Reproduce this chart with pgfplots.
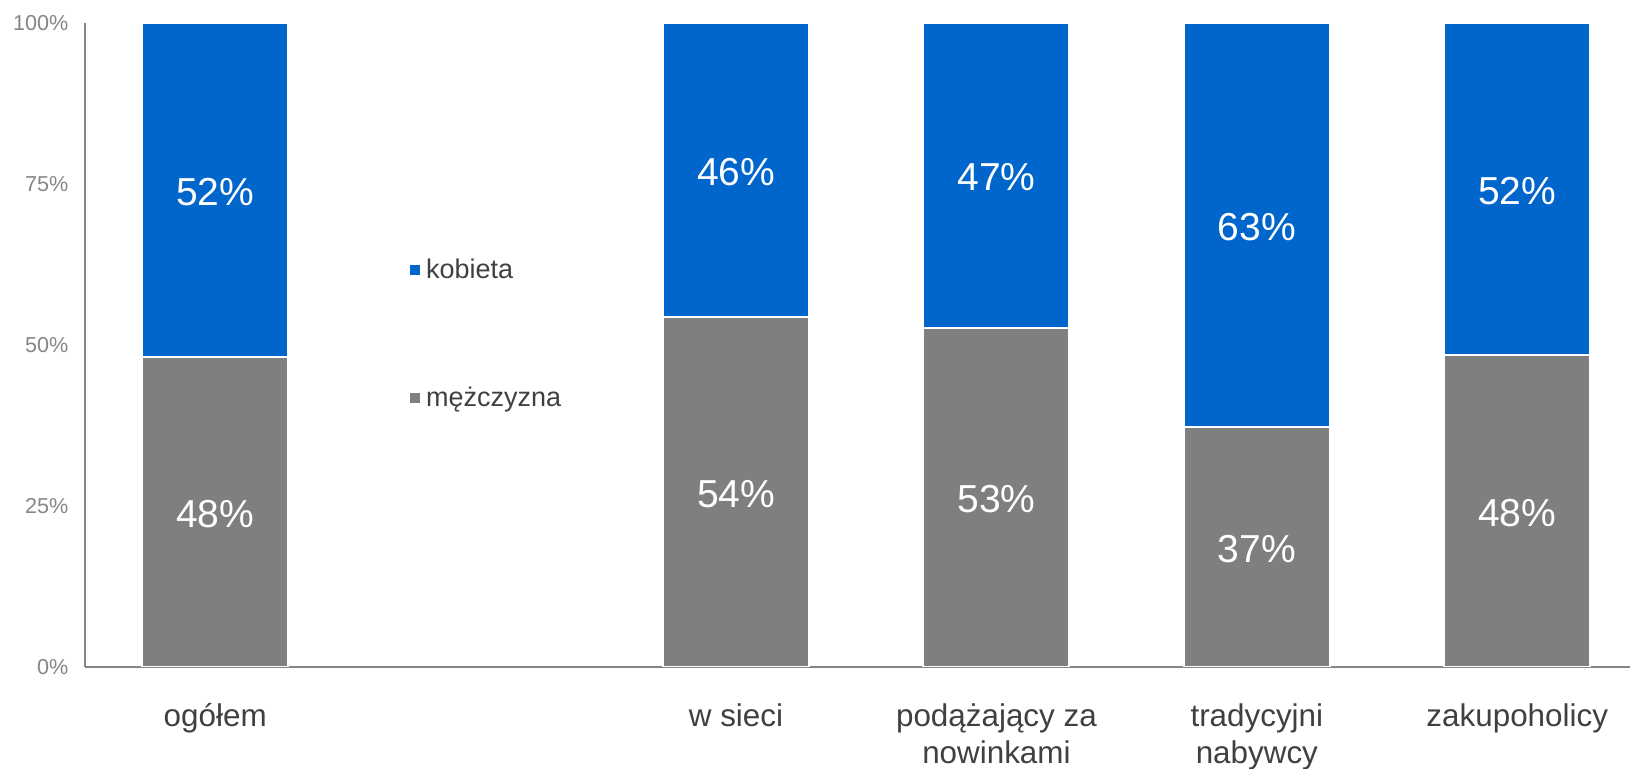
\documentclass[border=0pt]{standalone}
\usepackage{fontspec}
\setmainfont{Liberation Sans}
\usepackage{pgfplots}
\pgfplotsset{compat=1.18}
\definecolor{cblue}{HTML}{0066CC}
\definecolor{cgray}{HTML}{7F7F7F}
\definecolor{axgray}{HTML}{868686}
\definecolor{txt}{HTML}{404040}
\begin{document}
\begin{tikzpicture}
\begin{axis}[
  name=ax,
  scale only axis,
  width=772.5pt, height=322pt,
  xmin=-0.5, xmax=5.433,
  ymin=0, ymax=100,
  ybar stacked,
  bar width=73pt,
  axis x line=bottom, axis y line=left,
  axis line style={draw=axgray, line width=0.75pt, -},
  major tick length=0pt,
  xtick={0,2,3,4,5},
  xticklabels={ogółem, w sieci, {podążający za\\nowinkami}, {tradycyjni\\nabywcy}, zakupoholicy},
  xticklabel style={font=\fontsize{15.7}{18.3}\selectfont, text=txt, align=center, yshift=-14.8pt},
  ytick={0,25,50,75,100},
  yticklabels={0\%,25\%,50\%,75\%,100\%},
  yticklabel style={font=\fontsize{10.8}{13}\selectfont, text=axgray, xshift=-4.8pt},
  /pgf/number format/assume math mode=true,
  nodes near coords={\pgfmathprintnumber[fixed,precision=0]{\pgfplotspointmeta}\%},
  point meta=explicit,
  nodes near coords style={font=\fontsize{19.5}{23}\selectfont, text=white, anchor=center, yshift=-1pt},
  legend style={draw=none, fill=none, at={(rel axis cs:0.205,0.517)}, anchor=west,
    font=\fontsize{13.5}{16}\selectfont, text=txt, row sep=49pt,
    /tikz/every even column/.append style={column sep=0pt}},
  legend cell align=left,
  reverse legend,
  legend image code/.code={\fill[#1] (0pt,-3pt) rectangle (6pt,3pt);},
]
\addplot[fill=cgray, draw=white, line width=1pt] table[x=x, y=v, meta=v] {
x v
0 48.1
2 54.4
3 52.7
4 37.3
5 48.4
};
\addlegendentry{mężczyzna}
\addplot[fill=cblue, draw=white, line width=1pt] table[x=x, y=v, meta=v] {
x v
0 51.9
2 45.6
3 47.3
4 62.7
5 51.6
};
\addlegendentry{kobieta}
\coordinate (SW) at (rel axis cs:0,0);
\coordinate (NE) at (rel axis cs:1,1);
\end{axis}
\pgfresetboundingbox
\path ([xshift=-42.5pt,yshift=-51pt]SW) rectangle ([yshift=11.5pt]NE);
\end{tikzpicture}
\end{document}
